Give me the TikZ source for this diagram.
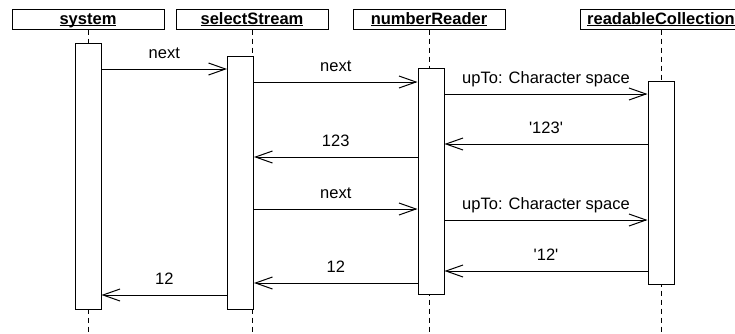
\documentclass[tikz,border=0pt]{standalone}
\usepackage{fontspec}
\setmainfont{Liberation Sans}
\usetikzlibrary{arrows.meta}
\newcommand\objname[1]{\underline{\smash{\textbf{#1}}}}
\newcommand\sdfont{\fontsize{16.5}{19}\selectfont}
\tikzset{
    head/.style={draw,fill=white,line width=1pt,minimum width=152,minimum height=20,
        inner sep=0pt,inner xsep=7pt,text height=12pt,text depth=2pt,font=\sdfont},
    life/.style={line width=1pt,dash pattern=on 5pt off 4pt},
    act/.style={draw,fill=white,line width=1pt,minimum width=26,inner sep=0pt},
    msg/.style={->,line width=1pt},
    lbl/.style={above=10pt,inner sep=0pt,text depth=0pt,font=\sdfont}
}
\begin{document}
\begin{tikzpicture}[x=1pt,y=-1pt,>={Straight Barb[length=17pt,width=12pt]}]
    \clip(0,0) rectangle (735,333);
\foreach \nm/\x/\txt in {sys/88/system,sel/252/selectStream,num/429/numberReader,col/661/readableCollection}
{
    \node[head] (\nm) at (\x,19) {\objname{\txt}};
    \draw[life](\nm.south)--(\nm.south |- 0,333);
}
    \node[act,minimum height=266] (sysA) at (88,176) {};
    \node[act,minimum height=253] (selA) at (240.5,182.5) {};
    \node[act,minimum height=226] (numA) at (431,181) {};
    \node[act,minimum height=203] (colA) at (661,182.5) {};
\draw[msg](sysA.east |- 0,69)--node[lbl]{next}(selA.west |- 0,69);
\draw[msg](selA.east |- 0,82)--node[lbl]{next}(numA.west |- 0,82);
\draw[msg](numA.east |- 0,94)--node[lbl]{upTo: Character space}(colA.west |- 0,94);
\draw[msg](colA.west |- 0,144)--node[lbl]{\textquotesingle 123\textquotesingle}(numA.east |- 0,144);
\draw[msg](numA.west |- 0,157)--node[lbl]{123}(selA.east |- 0,157);
\draw[msg](selA.east |- 0,209)--node[lbl]{next}(numA.west |- 0,209);
\draw[msg](numA.east |- 0,220)--node[lbl]{upTo: Character space}(colA.west |- 0,220);
\draw[msg](colA.west |- 0,271)--node[lbl]{\textquotesingle 12\textquotesingle}(numA.east |- 0,271);
\draw[msg](numA.west |- 0,283)--node[lbl]{12}(selA.east |- 0,283);
\draw[msg](selA.west |- 0,295)--node[lbl]{12}(sysA.east |- 0,295);
\end{tikzpicture}
\end{document}
